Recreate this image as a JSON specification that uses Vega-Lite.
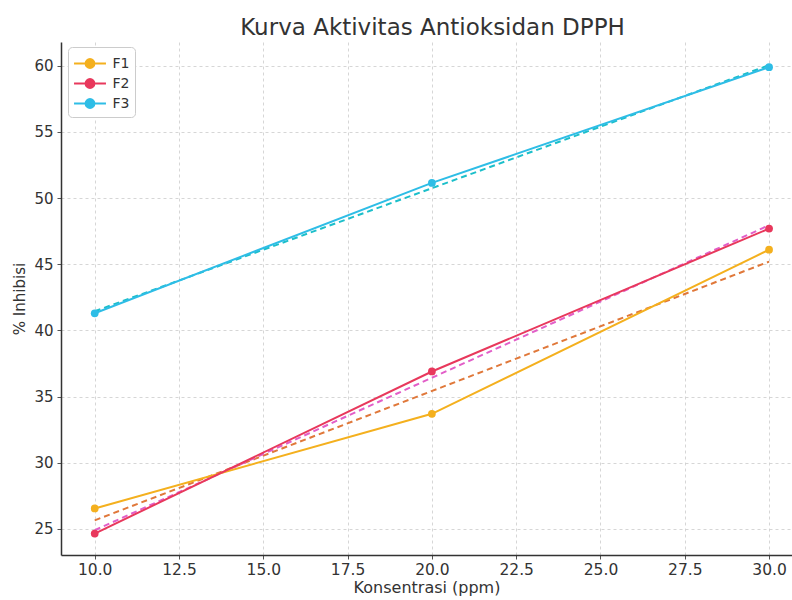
{
  "$schema": "https://vega.github.io/schema/vega-lite/v6.json",
  "width": 731,
  "height": 513,
  "autosize": {"type": "none"},
  "padding": {"left": 61, "top": 42, "right": 0, "bottom": 45},
  "background": "white",
  "title": {
    "text": "Kurva Aktivitas Antioksidan DPPH",
    "fontSize": 23,
    "font": "DejaVu Sans",
    "fontWeight": "normal",
    "color": "#333333",
    "anchor": "middle",
    "dx": 6,
    "offset": 2
  },
  "config": {
    "font": "DejaVu Sans",
    "view": {"stroke": null},
    "axis": {
      "labelFont": "DejaVu Sans",
      "labelColor": "#333333",
      "titleFont": "DejaVu Sans",
      "titleFontWeight": "normal",
      "titleColor": "#333333",
      "gridColor": "#cccccc",
      "gridDash": [3, 3],
      "gridWidth": 0.8,
      "domainColor": "#333333",
      "domainWidth": 1.5,
      "tickColor": "#555555",
      "tickSize": 4
    }
  },
  "datasets": {
    "obs": [
      {"konsentrasi": 10, "inhibisi": 26.55, "seri": "F1"},
      {"konsentrasi": 20, "inhibisi": 33.7, "seri": "F1"},
      {"konsentrasi": 30, "inhibisi": 46.1, "seri": "F1"},
      {"konsentrasi": 10, "inhibisi": 24.65, "seri": "F2"},
      {"konsentrasi": 20, "inhibisi": 36.9, "seri": "F2"},
      {"konsentrasi": 30, "inhibisi": 47.7, "seri": "F2"},
      {"konsentrasi": 10, "inhibisi": 41.3, "seri": "F3"},
      {"konsentrasi": 20, "inhibisi": 51.15, "seri": "F3"},
      {"konsentrasi": 30, "inhibisi": 59.9, "seri": "F3"}
    ],
    "trend": [
      {"konsentrasi": 10, "inhibisi": 25.65, "seri": "F1 tren"},
      {"konsentrasi": 30, "inhibisi": 45.2, "seri": "F1 tren"},
      {"konsentrasi": 10, "inhibisi": 24.9, "seri": "F2 tren"},
      {"konsentrasi": 30, "inhibisi": 47.95, "seri": "F2 tren"},
      {"konsentrasi": 10, "inhibisi": 41.45, "seri": "F3 tren"},
      {"konsentrasi": 30, "inhibisi": 60.05, "seri": "F3 tren"}
    ]
  },
  "encoding": {
    "x": {
      "field": "konsentrasi",
      "type": "quantitative",
      "scale": {"domain": [9.0, 30.68], "nice": false, "zero": false},
      "axis": {
        "orient": "bottom",
        "title": "Konsentrasi (ppm)",
        "values": [10, 12.5, 15, 17.5, 20, 22.5, 25, 27.5, 30],
        "format": ".1f",
        "labelFontSize": 15.5,
        "titleFontSize": 16,
        "labelPadding": 3,
        "titlePadding": 2
      }
    },
    "y": {
      "field": "inhibisi",
      "type": "quantitative",
      "scale": {"domain": [23.03, 61.8], "nice": false, "zero": false},
      "axis": {
        "orient": "left",
        "title": "% Inhibisi",
        "values": [25, 30, 35, 40, 45, 50, 55, 60],
        "labelFontSize": 15,
        "titleFontSize": 15,
        "labelPadding": 4,
        "titlePadding": 6
      }
    },
    "color": {
      "field": "seri",
      "type": "nominal",
      "scale": {
        "domain": ["F1", "F2", "F3", "F1 tren", "F2 tren", "F3 tren"],
        "range": ["#f4b01e", "#e8385c", "#2ebde6", "#e0783a", "#e25ec8", "#1cbfca"]
      },
      "legend": {
        "values": ["F1", "F2", "F3"],
        "title": null,
        "orient": "none",
        "legendX": 7,
        "legendY": 5,
        "labelFontSize": 14,
        "labelColor": "#333333",
        "labelFont": "DejaVu Sans",
        "symbolType": "M -1.52 0 L 1.52 0 M -0.42 0 A 0.42 0.42 0 1 1 0.42 0 A 0.42 0.42 0 1 1 -0.42 0 Z",
        "symbolSize": 441,
        "symbolStrokeWidth": 2,
        "symbolOffset": 5.5,
        "rowPadding": 0,
        "padding": 5,
        "cornerRadius": 4,
        "strokeColor": "#cccccc",
        "fillColor": "white",
        "labelOffset": 11,
        "encode": {
          "symbols": {"update": {"fill": {"scale": "color", "field": "value"}, "stroke": {"scale": "color", "field": "value"}}}
        }
      }
    }
  },
  "layer": [
    {
      "data": {"name": "trend"},
      "mark": {"type": "line", "strokeDash": [6, 4], "strokeWidth": 2}
    },
    {
      "data": {"name": "obs"},
      "mark": {"type": "line", "strokeWidth": 2}
    },
    {
      "data": {"name": "obs"},
      "mark": {"type": "point", "filled": true, "size": 60, "opacity": 1}
    }
  ]
}
